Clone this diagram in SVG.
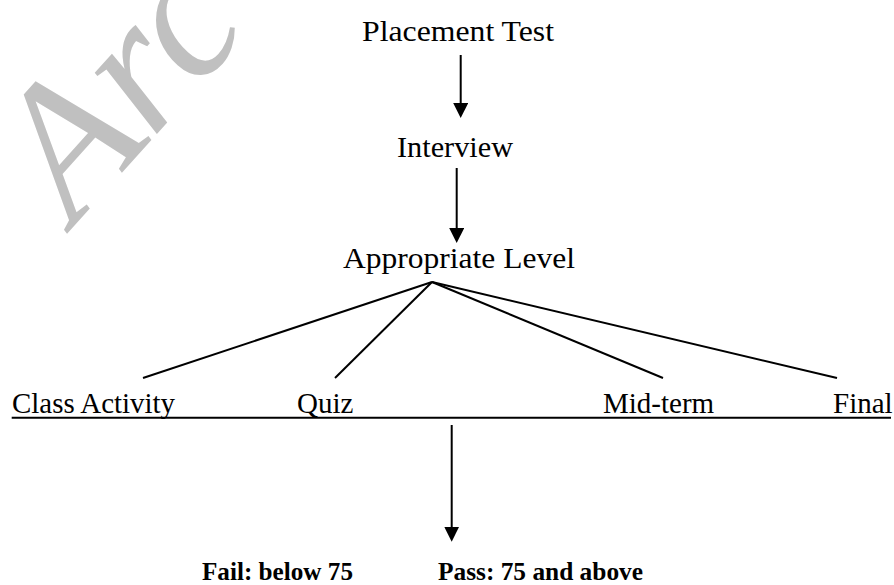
<svg xmlns="http://www.w3.org/2000/svg" width="894" height="585" viewBox="0 0 894 585">
  <style>
    .t { font-family: "Liberation Serif", "Times New Roman", serif; font-size: 29px; fill: #000; }
    .b { font-family: "Liberation Serif", "Times New Roman", serif; font-size: 26px; font-weight: bold; fill: #000; }
    .c { stroke: #000; stroke-width: 2; fill: none; }
    .wm { font-family: "Liberation Serif", "Times New Roman", serif; font-size: 190px; font-style: italic; fill: #c0c0c0; }
  </style>
  <defs>
    <marker id="ah" markerUnits="userSpaceOnUse" markerWidth="16" markerHeight="16" refX="5" refY="7.5" orient="auto">
      <path d="M0,0 L15,7.5 L0,15 z" fill="#000"/>
    </marker>
  </defs>
  <rect width="894" height="585" fill="#fff"/>
  <g id="watermark">
    <text class="wm" transform="translate(74,226) rotate(-48)">Arc</text>
  </g>
  <g id="node-placement"><text class="t" x="362" y="41" textLength="192" lengthAdjust="spacingAndGlyphs">Placement Test</text></g>
  <g id="node-interview"><text class="t" x="397" y="157" textLength="116" lengthAdjust="spacingAndGlyphs">Interview</text></g>
  <g id="node-level"><text class="t" x="343" y="268" textLength="232" lengthAdjust="spacingAndGlyphs">Appropriate Level</text></g>
  <g id="node-class"><text class="t" x="12" y="413" textLength="163" lengthAdjust="spacingAndGlyphs">Class Activity</text></g>
  <g id="node-quiz"><text class="t" x="297" y="413">Quiz</text></g>
  <g id="node-midterm"><text class="t" x="603" y="413">Mid-term</text></g>
  <g id="node-final"><text class="t" x="833" y="413">Final</text></g>
  <g id="node-fail"><text class="b" x="202" y="580" textLength="151" lengthAdjust="spacingAndGlyphs">Fail: below 75</text></g>
  <g id="node-pass"><text class="b" x="438" y="580" textLength="205" lengthAdjust="spacingAndGlyphs">Pass: 75 and above</text></g>
  <g id="connectors">
    <line class="c" x1="460.7" y1="55" x2="460.7" y2="108" marker-end="url(#ah)"/>
    <line class="c" x1="456.7" y1="168" x2="456.7" y2="233" marker-end="url(#ah)"/>
    <line class="c" x1="451.7" y1="425" x2="451.7" y2="531.7" marker-end="url(#ah)"/>
    <line class="c" x1="432" y1="282" x2="143" y2="378"/>
    <line class="c" x1="432" y1="282" x2="335" y2="378"/>
    <line class="c" x1="432" y1="282" x2="663" y2="378"/>
    <line class="c" x1="432" y1="282" x2="837" y2="378"/>
    <line class="c" x1="11.7" y1="417.7" x2="891" y2="417.7"/>
  </g>
</svg>
